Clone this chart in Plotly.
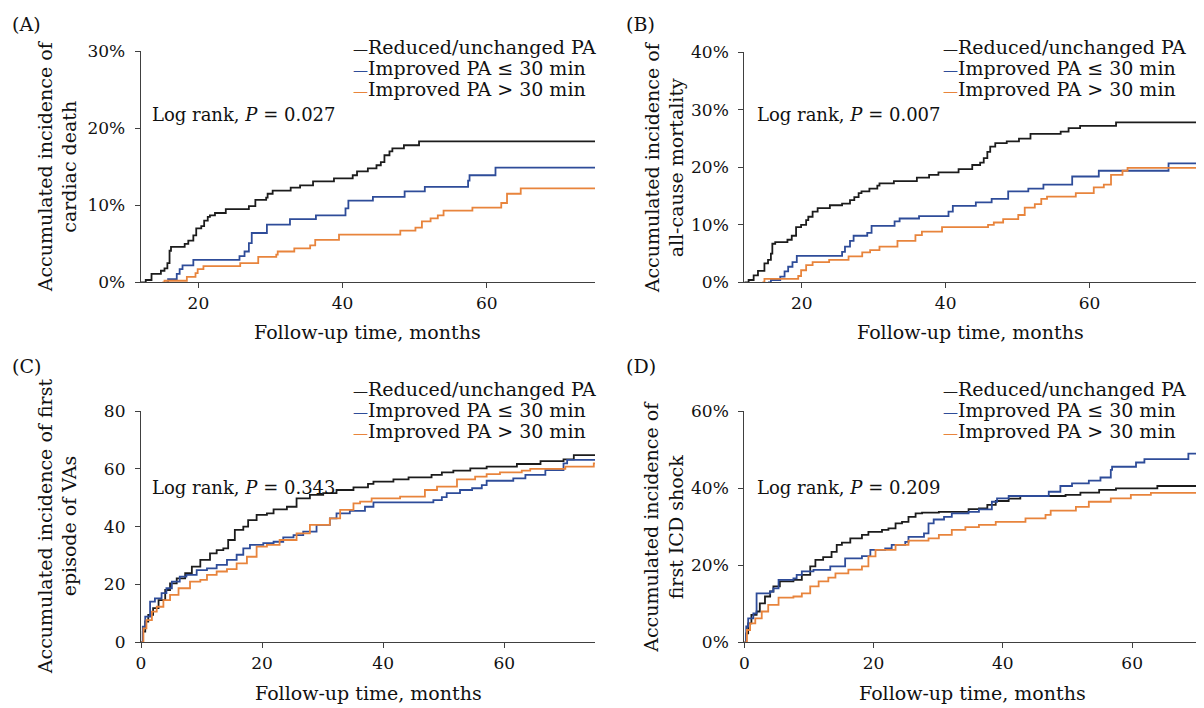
import plotly.graph_objects as go

W, H = 1204, 708
OFF = 8  # page body margin offset in the browser

# ---------------- data ----------------
series_names = ["Reduced/unchanged PA", "Improved PA ≤ 30 min", "Improved PA > 30 min"]

# Panel A: cardiac death (%)
a_black_t = [12, 12.7, 13.5, 14.8, 15.3, 15.7, 16.0, 16.2, 18.1, 18.6, 19.3, 19.7, 20.4, 20.8, 21.3, 21.6, 22.3, 23.8, 27.0, 27.9, 29.4, 29.6, 30.3, 32.8, 34.1, 35.9, 38.8, 41.4, 42.0, 43.5, 44.7, 45.3, 45.8, 46.5, 46.9, 48.5, 50.6, 75]
a_black_v = [0, 0.3, 1.1, 1.5, 1.8, 2.5, 4.1, 4.6, 5.0, 5.4, 6.1, 7.0, 7.3, 8.0, 8.5, 8.7, 9.0, 9.5, 9.9, 10.7, 11.0, 11.5, 11.9, 12.3, 12.6, 13.1, 13.5, 13.9, 14.4, 14.8, 15.2, 15.6, 16.5, 17.0, 17.4, 17.8, 18.3, 18.3]
a_blue_t = [15.5, 15.8, 17.0, 17.4, 17.8, 19.3, 25.7, 26.4, 27.0, 27.4, 29.5, 32.7, 36.3, 40.4, 40.8, 44.2, 48.6, 51.4, 57.4, 57.6, 61.2, 75]
a_blue_v = [0, 0.4, 1.1, 1.7, 2.2, 2.9, 3.4, 4.0, 5.1, 6.4, 7.5, 8.2, 8.7, 9.6, 10.6, 11.1, 11.8, 12.4, 13.2, 13.9, 14.9, 14.9]
a_orange_t = [15.0, 15.3, 18.4, 19.6, 19.9, 20.7, 25.8, 28.3, 30.8, 31.0, 33.3, 35.5, 36.2, 39.5, 48.0, 50.1, 51.0, 52.2, 53.2, 54.0, 58.0, 62.0, 62.8, 64.7, 75]
a_orange_v = [0, 0.2, 0.7, 1.2, 1.7, 2.1, 2.5, 3.3, 3.6, 4.0, 4.4, 4.8, 5.5, 6.2, 6.7, 7.1, 7.9, 8.3, 8.7, 9.3, 9.7, 10.3, 11.5, 12.2, 12.2]

# Panel B: all-cause mortality (%)
b_black_t = [12, 12.6, 13.3, 13.9, 14.8, 15.3, 15.7, 15.9, 16.3, 18.0, 18.6, 19.2, 19.9, 20.6, 20.9, 21.5, 22.2, 23.9, 25.6, 26.7, 27.3, 27.9, 28.3, 29.4, 30.5, 30.8, 32.8, 36.0, 37.7, 39.0, 41.8, 43.7, 44.8, 45.3, 45.8, 46.2, 46.9, 48.5, 50.2, 51.8, 56.0, 57.1, 58.7, 63.7, 75]
b_black_v = [0, 0.4, 1.2, 2.0, 3.3, 3.9, 5.0, 6.7, 7.0, 7.4, 8.1, 9.6, 10.0, 10.8, 11.4, 12.3, 12.9, 13.4, 13.7, 14.3, 14.8, 15.5, 15.8, 16.3, 16.8, 17.2, 17.6, 18.2, 18.7, 19.1, 19.7, 20.4, 20.8, 21.6, 22.7, 23.6, 24.2, 24.5, 25.0, 25.8, 26.2, 26.8, 27.2, 27.8, 27.8]
b_blue_t = [15.3, 15.7, 17.0, 17.6, 18.1, 18.7, 19.3, 25.6, 26.0, 26.7, 27.2, 29.1, 29.7, 32.9, 33.6, 36.3, 40.4, 41.0, 44.2, 46.4, 48.7, 51.5, 53.6, 57.6, 61.3, 71.0, 75]
b_blue_v = [0, 0.4, 1.0, 1.9, 2.7, 3.5, 4.6, 5.3, 6.2, 7.2, 8.1, 8.6, 9.8, 10.6, 11.1, 11.5, 12.3, 13.3, 13.9, 14.5, 15.8, 16.3, 17.0, 18.4, 19.4, 20.7, 20.7]
b_orange_t = [14.5, 14.8, 19.5, 19.9, 20.6, 21.5, 23.8, 26.5, 28.4, 29.5, 30.8, 33.3, 35.8, 36.7, 39.5, 45.9, 46.7, 48.0, 50.1, 51.0, 52.4, 53.3, 54.1, 58.1, 60.6, 62.0, 63.0, 64.6, 65.3, 75]
b_orange_v = [0, 0.6, 1.1, 2.1, 3.0, 3.5, 3.9, 4.5, 5.2, 5.6, 6.2, 7.2, 8.2, 8.8, 9.6, 10.0, 10.4, 11.0, 11.7, 13.0, 13.6, 14.5, 14.9, 15.5, 16.5, 17.0, 18.7, 19.4, 19.9, 19.9]

# Panel C: first episode of VAs
c_black_t = [0, 0.3, 0.7, 1.2, 2.0, 2.9, 4.0, 4.8, 5.9, 7.3, 8.4, 9.8, 11.4, 12.5, 13.6, 14.4, 15.5, 16.9, 17.7, 19.1, 20.8, 21.9, 24.1, 25.7, 27.9, 30.1, 32.3, 35.1, 37.5, 38.4, 41.7, 44.2, 48.0, 49.7, 51.6, 54.4, 57.1, 62.1, 66.0, 69.8, 71.5, 75]
c_black_v = [0, 3.7, 7.2, 9.5, 11.8, 14.6, 18.1, 20.4, 22.1, 23.9, 26.2, 28.5, 30.8, 31.9, 32.5, 35.4, 38.9, 40.0, 42.3, 44.1, 44.6, 46.0, 46.9, 49.8, 51.0, 51.6, 52.7, 53.6, 54.8, 55.6, 56.4, 57.1, 57.9, 58.8, 59.4, 60.2, 60.8, 61.7, 62.7, 63.3, 64.8, 64.8]
c_blue_t = [0, 0.3, 0.7, 1.5, 2.3, 3.4, 4.2, 5.1, 6.4, 7.5, 9.2, 10.9, 12.5, 14.2, 15.8, 16.9, 18.0, 20.2, 21.9, 23.5, 25.2, 26.8, 29.0, 31.2, 32.3, 34.5, 37.0, 38.4, 48.3, 49.7, 50.5, 52.7, 54.7, 56.3, 57.1, 61.5, 63.5, 66.8, 69.8, 70.4, 75]
c_blue_v = [0, 5.4, 8.9, 14.1, 15.2, 17.0, 18.7, 21.0, 22.7, 23.3, 25.0, 25.6, 26.8, 28.5, 30.3, 32.5, 33.7, 34.3, 34.8, 36.3, 37.1, 38.3, 40.6, 42.9, 44.6, 45.5, 46.9, 48.4, 49.2, 50.2, 51.6, 52.7, 53.3, 54.4, 55.9, 56.7, 57.9, 59.6, 61.9, 63.1, 63.1]
c_orange_t = [0, 0.4, 0.9, 1.8, 2.6, 3.7, 4.8, 6.2, 8.1, 9.8, 10.9, 12.5, 14.2, 15.8, 17.5, 19.1, 20.8, 22.9, 25.7, 27.9, 31.2, 32.9, 35.1, 36.2, 38.1, 42.8, 46.9, 48.9, 52.2, 55.2, 57.1, 59.3, 62.9, 64.3, 70.1, 74.8, 75]
c_orange_v = [0, 4.8, 7.7, 10.6, 12.3, 14.6, 16.4, 18.7, 21.0, 21.6, 23.3, 24.5, 25.3, 27.3, 29.6, 33.1, 33.7, 35.4, 37.7, 40.6, 42.9, 45.8, 48.1, 48.7, 49.8, 50.4, 52.7, 53.9, 56.4, 57.3, 58.2, 58.8, 59.4, 60.0, 60.8, 61.9, 61.9]

# Panel D: first ICD shock (%)
d_black_t = [0, 0.3, 0.6, 1.1, 1.9, 2.4, 3.2, 4.0, 4.5, 5.5, 7.6, 8.9, 10.2, 11.0, 12.2, 13.5, 14.3, 15.1, 16.4, 18.2, 19.2, 21.3, 22.3, 23.4, 24.4, 25.4, 26.5, 27.5, 30.1, 34.7, 36.3, 37.6, 38.9, 40.9, 42.7, 49.7, 52.0, 54.9, 57.5, 63.9, 70.5]
d_black_v = [0, 2.3, 4.9, 7.1, 8.0, 10.1, 11.9, 13.2, 14.5, 15.8, 16.2, 17.5, 19.7, 21.4, 22.1, 23.5, 25.3, 25.9, 27.0, 27.9, 28.7, 29.2, 29.6, 30.9, 31.3, 32.6, 33.5, 33.7, 33.9, 34.6, 34.8, 35.7, 36.7, 37.3, 38.0, 38.3, 38.9, 39.6, 40.0, 40.6, 40.6]
d_blue_t = [0, 0.3, 0.6, 1.4, 1.9, 4.0, 4.5, 5.3, 7.6, 8.1, 8.9, 10.7, 13.3, 15.6, 18.2, 19.5, 21.8, 22.8, 24.9, 25.4, 27.8, 28.5, 29.3, 30.9, 32.1, 34.7, 36.3, 38.3, 39.1, 40.9, 47.1, 48.9, 50.7, 53.3, 55.1, 56.7, 56.9, 60.6, 61.9, 68.7, 70.5]
d_blue_v = [0, 4.1, 6.2, 7.5, 12.7, 13.2, 14.0, 16.2, 16.6, 17.5, 18.4, 18.8, 19.7, 21.8, 22.4, 24.0, 24.4, 25.3, 26.1, 27.4, 28.3, 30.9, 31.9, 32.6, 33.5, 33.9, 34.5, 36.5, 37.4, 38.0, 39.1, 40.6, 41.3, 42.0, 42.8, 44.8, 45.6, 46.7, 47.6, 49.0, 49.0]
d_orange_t = [0, 0.4, 0.9, 1.7, 2.7, 3.7, 5.3, 7.6, 8.9, 10.2, 11.5, 13.0, 14.1, 16.1, 18.2, 19.2, 20.3, 23.4, 25.4, 28.5, 30.1, 32.1, 34.2, 36.3, 38.9, 43.5, 46.6, 47.4, 51.3, 53.3, 56.7, 59.8, 62.9, 70.5]
d_orange_v = [0, 3.2, 4.9, 6.2, 8.0, 9.7, 11.6, 11.9, 12.7, 14.5, 15.8, 16.8, 17.9, 18.9, 19.7, 22.3, 24.0, 25.3, 26.4, 27.0, 27.9, 29.2, 29.9, 30.5, 31.3, 32.2, 33.1, 34.2, 35.2, 36.5, 37.4, 38.3, 38.8, 38.8]

panel_labels = ["(A)", "(B)", "(C)", "(D)"]
y_titles = ["Accumulated incidence of<br>cardiac death",
            "Accumulated incidence of<br>all-cause mortality",
            "Accumulated incidence of first<br>episode of VAs",
            "Accumulated incidence of<br>first ICD shock"]
p_values = ["0.027", "0.007", "0.343", "0.209"]
x_title = "Follow-up time, months"
y_ranges = [[0, 30], [0, 40], [0, 80], [0, 60]]
y_dticks = [10, 10, 20, 20]
y_suffix = ["%", "%", "", "%"]
x_ranges = [[12, 75], [12, 75], [0, 75], [0, 70.5]]

# ---------------- style / layout ----------------
FONT = "DejaVu Serif"
COLORS = ["#1c1c1c", "#2E4C99", "#E8843C"]
AXC = "#404040"


def px(x):
    return (x - OFF) / W


def py(y):
    return 1 - (y - OFF) / H


# plot boxes in screen pixels: (left, right, bottom, top)
boxes = [(140.7, 595, 282.3, 51.3),
         (744.3, 1197.3, 282.3, 52.3),
         (141, 595, 642.3, 411.1),
         (744.3, 1200, 642.3, 411.3)]

data = [
    [(a_black_t, a_black_v), (a_blue_t, a_blue_v), (a_orange_t, a_orange_v)],
    [(b_black_t, b_black_v), (b_blue_t, b_blue_v), (b_orange_t, b_orange_v)],
    [(c_black_t, c_black_v), (c_blue_t, c_blue_v), (c_orange_t, c_orange_v)],
    [(d_black_t, d_black_v), (d_blue_t, d_blue_v), (d_orange_t, d_orange_v)],
]

fig = go.Figure()
annotations = []
layout_axes = {}

for i in range(4):
    sfx = "" if i == 0 else str(i + 1)
    l, r, b, t = boxes[i]
    for j, (tt, vv) in enumerate(data[i]):
        fig.add_trace(go.Scatter(
            x=tt, y=vv, mode="lines", name=series_names[j],
            line=dict(color=COLORS[j], width=1.8, shape="hv"),
            xaxis="x" + sfx, yaxis="y" + sfx, showlegend=False,
        ))
    layout_axes["xaxis" + sfx] = dict(
        domain=[px(l), px(r)], range=x_ranges[i], anchor="y" + sfx, automargin=False,
        showgrid=False, zeroline=False, showline=True, linecolor=AXC, linewidth=1.2,
        ticks="outside", ticklen=5, tickcolor=AXC, tickwidth=1.2,
        tick0=0, dtick=20, tickfont=dict(family=FONT, size=17, color="#111"),
        fixedrange=True,
    )
    layout_axes["yaxis" + sfx] = dict(
        domain=[py(b), py(t)], range=y_ranges[i], anchor="x" + sfx, automargin=False,
        showgrid=False, zeroline=False, showline=True, linecolor=AXC, linewidth=1.2,
        ticks="outside", ticklen=5, tickcolor=AXC, tickwidth=1.2,
        tick0=0, dtick=y_dticks[i], ticksuffix=y_suffix[i],
        tickfont=dict(family=FONT, size=17, color="#111"), ticklabelstandoff=6,
        fixedrange=True,
    )

    # panel label
    lab_x = 10 if i % 2 == 0 else 624
    lab_y = 24 if i < 2 else 366
    annotations.append(dict(text=panel_labels[i], x=px(lab_x), y=py(lab_y), xref="paper", yref="paper",
                            xanchor="left", yanchor="middle", showarrow=False,
                            font=dict(family=FONT, size=19, color="#111")))
    # y title
    yt_x = 57.5 if i % 2 == 0 else 664
    annotations.append(dict(text=y_titles[i], x=px(yt_x), y=py((b + t) / 2), xref="paper", yref="paper",
                            xanchor="center", yanchor="middle", textangle=-90, showarrow=False,
                            font=dict(family=FONT, size=19, color="#111")))
    # x title
    xt_y = 332 if i < 2 else 693
    annotations.append(dict(text=x_title, x=px((l + r) / 2), y=py(xt_y), xref="paper", yref="paper",
                            xanchor="center", yanchor="middle", showarrow=False,
                            font=dict(family=FONT, size=19, color="#111")))
    # log rank
    lr_x = 150 if i % 2 == 0 else 755
    lr_y = 114 if i < 2 else 487
    annotations.append(dict(text="Log rank, <i>P</i> = " + p_values[i], x=px(lr_x), y=py(lr_y),
                            xref="paper", yref="paper", xanchor="left", yanchor="middle", showarrow=False,
                            font=dict(family=FONT, size=18, color="#111")))
    # legend
    lg_x = 351 if i % 2 == 0 else 941
    lg_y0 = 47 if i < 2 else 389
    for j in range(3):
        annotations.append(dict(
            text="<span style='color:%s;font-size:15px'>—</span>%s" % (COLORS[j], series_names[j]),
            x=px(lg_x), y=py(lg_y0 + 21 * j), xref="paper", yref="paper",
            xanchor="left", yanchor="middle", showarrow=False,
            font=dict(family=FONT, size=19, color="#111")))

fig.update_layout(
    width=W, height=H, autosize=False,
    margin=dict(l=0, r=0, t=0, b=0, pad=0, autoexpand=False),
    paper_bgcolor="white", plot_bgcolor="white",
    font=dict(family=FONT, size=18, color="#111"),
    annotations=annotations,
    showlegend=False,
    **layout_axes,
)

fig.write_html("out.html")
